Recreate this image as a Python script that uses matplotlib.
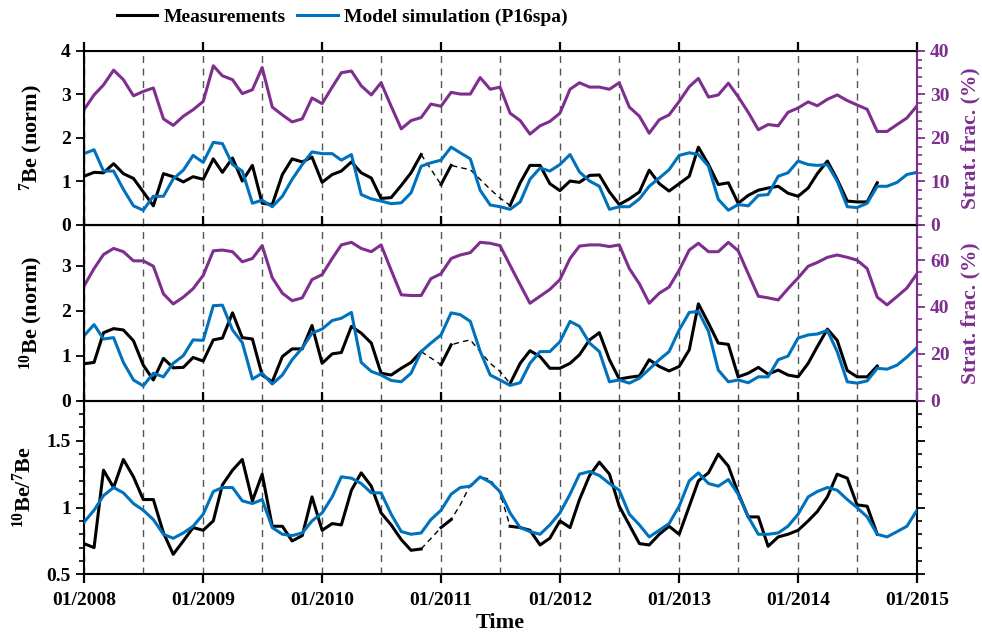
import numpy as np
import pandas as pd
import matplotlib
matplotlib.use('Agg')
import matplotlib.pyplot as plt
import matplotlib.dates as mdates
from matplotlib.ticker import MultipleLocator
from matplotlib.lines import Line2D

plt.rcParams['font.family'] = ['Liberation Serif', 'DejaVu Serif']
plt.rcParams['font.weight'] = 'bold'
plt.rcParams['axes.labelweight'] = 'bold'
plt.rcParams['mathtext.fontset'] = 'custom'
plt.rcParams['mathtext.rm'] = 'Liberation Serif:bold'
plt.rcParams['mathtext.bf'] = 'Liberation Serif:bold'
plt.rcParams['mathtext.default'] = 'bf'

nan = np.nan

# monthly time axis, 01/2008 .. 01/2015
months = pd.date_range('2008-01-01', periods=85, freq='MS')
year_labels = ['01/2008', '01/2009', '01/2010', '01/2011', '01/2012', '01/2013', '01/2014', '01/2015']

# --- 7Be (norm) ---
be7_meas = np.array([
    1.12, 1.21, 1.20, 1.41, 1.18, 1.07, 0.76, 0.44, 1.18, 1.11,
    0.99, 1.11, 1.05, 1.52, 1.21, 1.54, 1.01, 1.37, 0.50, 0.47,
    1.16, 1.52, 1.45, 1.56, 0.98, 1.16, 1.24, 1.45, 1.20, 1.08,
    0.61, 0.63, 0.91, 1.20, 1.62, nan, 0.93, 1.37, nan, nan,
    nan, nan, nan, 0.45, 0.97, 1.37, 1.37, 0.95, 0.79, 1.01,
    0.98, 1.14, 1.15, 0.76, 0.47, 0.60, 0.76, 1.26, 0.95, 0.78,
    0.95, 1.12, 1.79, 1.39, 0.93, 0.97, 0.50, 0.68, 0.80, 0.85,
    0.89, 0.73, 0.66, 0.85, 1.18, 1.47, 1.05, 0.55, 0.53, 0.53,
    0.97, nan, nan, nan, nan])
be7_model = np.array([
    1.64, 1.73, 1.24, 1.24, 0.82, 0.44, 0.34, 0.66, 0.66, 1.06,
    1.26, 1.60, 1.44, 1.90, 1.87, 1.39, 1.24, 0.50, 0.57, 0.42,
    0.66, 1.05, 1.39, 1.68, 1.64, 1.64, 1.49, 1.62, 0.70, 0.60,
    0.55, 0.49, 0.51, 0.74, 1.35, 1.43, 1.49, 1.79, 1.66, 1.52,
    0.80, 0.46, 0.42, 0.36, 0.53, 1.05, 1.31, 1.24, 1.39, 1.62,
    1.22, 1.01, 0.89, 0.36, 0.42, 0.42, 0.60, 0.89, 1.08, 1.27,
    1.60, 1.66, 1.62, 1.35, 0.59, 0.34, 0.47, 0.44, 0.68, 0.70,
    1.12, 1.20, 1.47, 1.39, 1.37, 1.39, 1.01, 0.42, 0.40, 0.50,
    0.89, 0.89, 0.98, 1.16, 1.21])
strat7 = np.array([
    26.5, 29.9, 32.2, 35.6, 33.4, 29.7, 30.7, 31.5, 24.4, 22.9,
    25.0, 26.5, 28.4, 36.6, 34.3, 33.4, 30.2, 31.1, 36.2, 27.1,
    25.3, 23.7, 24.4, 29.2, 27.9, 31.7, 35.0, 35.4, 32.0, 29.9,
    32.7, 27.3, 22.1, 24.0, 24.7, 27.8, 27.3, 30.5, 30.1, 30.1,
    33.9, 31.2, 31.7, 25.7, 24.0, 20.9, 22.8, 23.8, 25.7, 31.2,
    32.7, 31.7, 31.7, 31.2, 32.7, 27.1, 25.0, 21.1, 24.2, 25.3,
    28.4, 31.8, 33.7, 29.4, 29.9, 32.6, 29.5, 25.9, 21.9, 23.1,
    22.8, 25.9, 26.9, 28.3, 27.4, 28.9, 29.9, 28.6, 27.6, 26.6,
    21.5, 21.5, 23.1, 24.6, 27.4])

# --- 10Be (norm) ---
be10_meas = np.array([
    0.82, 0.85, 1.51, 1.60, 1.57, 1.33, 0.79, 0.46, 0.94, 0.73,
    0.74, 0.96, 0.88, 1.35, 1.39, 1.95, 1.40, 1.37, 0.57, 0.42,
    0.98, 1.15, 1.15, 1.67, 0.83, 1.04, 1.07, 1.65, 1.50, 1.28,
    0.61, 0.57, 0.72, 0.85, 1.09, nan, 0.80, 1.24, nan, nan,
    nan, nan, nan, 0.38, 0.83, 1.11, 0.98, 0.72, 0.72, 0.83,
    1.02, 1.35, 1.51, 0.91, 0.48, 0.52, 0.55, 0.91, 0.76, 0.66,
    0.76, 1.13, 2.15, 1.72, 1.28, 1.25, 0.53, 0.61, 0.74, 0.59,
    0.68, 0.57, 0.53, 0.83, 1.20, 1.59, 1.34, 0.67, 0.53, 0.53,
    0.77, nan, nan, nan, nan])
be10_model = np.array([
    1.44, 1.69, 1.37, 1.40, 0.85, 0.46, 0.33, 0.61, 0.53, 0.83,
    1.00, 1.35, 1.34, 2.11, 2.12, 1.57, 1.29, 0.48, 0.61, 0.37,
    0.57, 0.91, 1.17, 1.50, 1.59, 1.78, 1.83, 1.96, 0.85, 0.65,
    0.57, 0.45, 0.42, 0.61, 1.09, 1.28, 1.46, 1.95, 1.91, 1.76,
    1.10, 0.57, 0.46, 0.34, 0.40, 0.83, 1.09, 1.09, 1.31, 1.76,
    1.65, 1.28, 1.09, 0.42, 0.46, 0.39, 0.50, 0.70, 0.91, 1.09,
    1.57, 1.96, 1.98, 1.54, 0.68, 0.42, 0.46, 0.40, 0.53, 0.53,
    0.91, 0.99, 1.39, 1.46, 1.48, 1.56, 1.09, 0.42, 0.39, 0.44,
    0.72, 0.70, 0.79, 0.97, 1.18])
strat10 = np.array([
    48.9, 56.4, 62.4, 65.0, 63.6, 59.7, 59.7, 57.4, 45.6, 41.3,
    44.2, 47.8, 53.5, 64.0, 64.3, 63.6, 59.3, 60.7, 66.2, 52.5,
    45.9, 42.7, 43.9, 51.7, 53.8, 60.7, 66.5, 67.6, 65.0, 63.6,
    66.5, 55.7, 45.2, 44.9, 44.9, 52.1, 54.2, 60.7, 62.2, 63.2,
    67.6, 67.2, 66.2, 57.8, 49.5, 41.6, 44.6, 47.5, 51.7, 60.7,
    66.0, 66.5, 66.5, 65.8, 66.5, 56.4, 49.9, 41.6, 45.9, 48.5,
    55.7, 64.3, 67.2, 63.6, 63.6, 67.6, 64.0, 54.2, 44.6, 43.9,
    43.0, 47.8, 52.4, 57.4, 59.0, 61.2, 62.2, 61.2, 60.0, 56.4,
    44.2, 40.9, 44.5, 48.1, 54.2])

# --- 10Be/7Be ---
ratio_meas = np.array([
    0.73, 0.70, 1.28, 1.15, 1.36, 1.23, 1.06, 1.06, 0.81, 0.65,
    0.75, 0.85, 0.83, 0.90, 1.17, 1.28, 1.36, 1.05, 1.25, 0.86,
    0.86, 0.75, 0.79, 1.08, 0.83, 0.88, 0.87, 1.13, 1.26, 1.16,
    0.96, 0.87, 0.76, 0.68, 0.69, nan, 0.85, 0.91, nan, nan,
    nan, nan, nan, 0.86, 0.85, 0.83, 0.72, 0.77, 0.90, 0.85,
    1.06, 1.24, 1.34, 1.25, 1.01, 0.87, 0.73, 0.72, 0.80, 0.86,
    0.80, 1.01, 1.20, 1.26, 1.40, 1.31, 1.11, 0.93, 0.93, 0.71,
    0.78, 0.80, 0.83, 0.90, 0.97, 1.08, 1.25, 1.22, 1.02, 1.01,
    0.80, nan, nan, nan, nan])
ratio_model = np.array([
    0.89, 0.98, 1.09, 1.15, 1.11, 1.03, 0.98, 0.91, 0.80, 0.77,
    0.81, 0.86, 0.95, 1.12, 1.15, 1.15, 1.05, 1.03, 1.06, 0.85,
    0.80, 0.79, 0.81, 0.90, 0.96, 1.08, 1.23, 1.22, 1.18, 1.11,
    1.11, 0.95, 0.82, 0.80, 0.81, 0.91, 0.98, 1.10, 1.15, 1.16,
    1.23, 1.19, 1.12, 0.96, 0.85, 0.82, 0.80, 0.87, 0.96, 1.10,
    1.25, 1.27, 1.24, 1.18, 1.13, 0.95, 0.87, 0.78, 0.83, 0.88,
    1.01, 1.20, 1.26, 1.18, 1.16, 1.21, 1.10, 0.93, 0.80, 0.80,
    0.81, 0.86, 0.95, 1.08, 1.12, 1.15, 1.13, 1.06, 1.00, 0.93,
    0.80, 0.78, 0.82, 0.86, 0.98])

# dashed gap-fill segment (2011), month indices and values
gap_idx = [38, 39, 40, 41, 42]
be7_gap = [1.32, 1.27, 1.05, 0.82, 0.62]
be10_gap = [1.30, 1.35, 1.09, 0.83, 0.65]
ratio_gap = [1.02, 1.17, 1.23, 1.21, 1.11]
gap_span = slice(34, 44)

BLUE = '#0072BD'
PURPLE = '#7E2F8E'
LW = 2.2

fig = plt.figure(figsize=(9.82, 6.39), dpi=100)
ax1 = fig.add_axes([0.0855, 0.6479, 0.8483, 0.2723])
ax2 = fig.add_axes([0.0855, 0.3729, 0.8483, 0.2750])
ax3 = fig.add_axes([0.0855, 0.1012, 0.8483, 0.2717])

half_years = pd.date_range(months[0], months[-1], freq='6MS')


def draw_panel(ax, meas, model, gap):
    for d in half_years:
        ax.axvline(d, color='#555555', lw=1.0, ls=(0, (5, 4)), zorder=0)
    filled = meas.copy()
    filled[gap_idx] = gap
    xs = months[gap_span]
    ys = filled[gap_span]
    ok = ~np.isnan(ys)
    ax.plot(xs[ok], ys[ok], color='k', lw=1.0, ls=(0, (4, 3)), zorder=2)
    ax.plot(months, meas, color='k', lw=LW, zorder=3)
    ax.plot(months, model, color=BLUE, lw=LW, zorder=4)
    ax.set_xlim(months[0], months[-1])
    ax.xaxis.set_major_locator(mdates.YearLocator())
    ax.xaxis.set_major_formatter(mdates.DateFormatter('%m/%Y'))
    ax.tick_params(axis='x', which='major', direction='out', top=True, bottom=False,
                   labelbottom=False, length=6.5, width=1.6, labelsize=14)
    ax.tick_params(axis='y', which='major', direction='out', length=6, width=1.3, labelsize=14)
    for s in ax.spines.values():
        s.set_linewidth(1.5)


def add_strat(ax, strat, top, minor):
    axr = ax.twinx()
    axr.plot(months, strat, color=PURPLE, lw=LW)
    axr.set_ylim(0, top)
    axr.yaxis.set_minor_locator(MultipleLocator(minor))
    axr.tick_params(axis='y', which='major', colors=PURPLE, direction='out',
                    length=6, width=1.3, labelsize=14)
    axr.tick_params(axis='y', which='minor', colors=PURPLE, direction='out',
                    length=3.5, width=1.2)
    for lab in axr.get_yticklabels():
        lab.set_fontweight('bold')
    axr.spines['right'].set_color(PURPLE)
    axr.spines['right'].set_linewidth(1.5)
    ax.spines['right'].set_color(PURPLE)
    axr.set_ylabel('Strat. frac. (%)', color=PURPLE, fontsize=15.5)
    axr.yaxis.set_label_coords(1.052, 0.5)
    return axr


# panel 1
draw_panel(ax1, be7_meas, be7_model, be7_gap)
ax1.set_ylim(0, 4)
ax1.set_yticks([0, 1, 2, 3, 4])
ax1.set_ylabel('$^{7}$Be (norm)', fontsize=16)
ax1.yaxis.set_label_coords(-0.047, 0.5)
ax1r = add_strat(ax1, strat7, 40, 2)
ax1r.set_yticks([0, 10, 20, 30, 40])

# panel 2
draw_panel(ax2, be10_meas, be10_model, be10_gap)
ax2.set_ylim(0, 3.9)
ax2.set_yticks([0, 1, 2, 3])
ax2.set_ylabel('$^{10}$Be (norm)', fontsize=16)
ax2.yaxis.set_label_coords(-0.047, 0.5)
ax2r = add_strat(ax2, strat10, 75, 5)
ax2r.set_yticks([0, 20, 40, 60])

# panel 3
draw_panel(ax3, ratio_meas, ratio_model, ratio_gap)
ax3.set_ylim(0.5, 1.8)
ax3.set_yticks([0.5, 1.0, 1.5])
ax3.set_yticklabels(['0.5', '1', '1.5'])
ax3.yaxis.set_minor_locator(MultipleLocator(0.1))
ax3.tick_params(axis='y', which='both', right=True)
ax3.tick_params(axis='y', which='minor', direction='out', length=3.5, width=1.2)
ax3.tick_params(axis='x', which='major', bottom=True, labelbottom=True, pad=6)
ax3.set_xticks(pd.date_range(months[0], months[-1], freq='12MS'))
ax3.set_xticklabels(year_labels)
ax3.set_ylabel('$^{10}$Be/$^{7}$Be', fontsize=16)
ax3.yaxis.set_label_coords(-0.058, 0.5)
ax3.set_xlabel('Time', fontsize=16, labelpad=3)

handles = [Line2D([], [], color='k', lw=LW), Line2D([], [], color=BLUE, lw=LW)]
fig.legend(handles, ['Measurements', 'Model simulation (P16spa)'], loc='center',
           bbox_to_anchor=(342 / 982, 1 - 17 / 639), ncol=2, frameon=False,
           fontsize=14, handlelength=2.1, handletextpad=0.3, columnspacing=0.6)

fig.savefig('out.png', dpi=100)
